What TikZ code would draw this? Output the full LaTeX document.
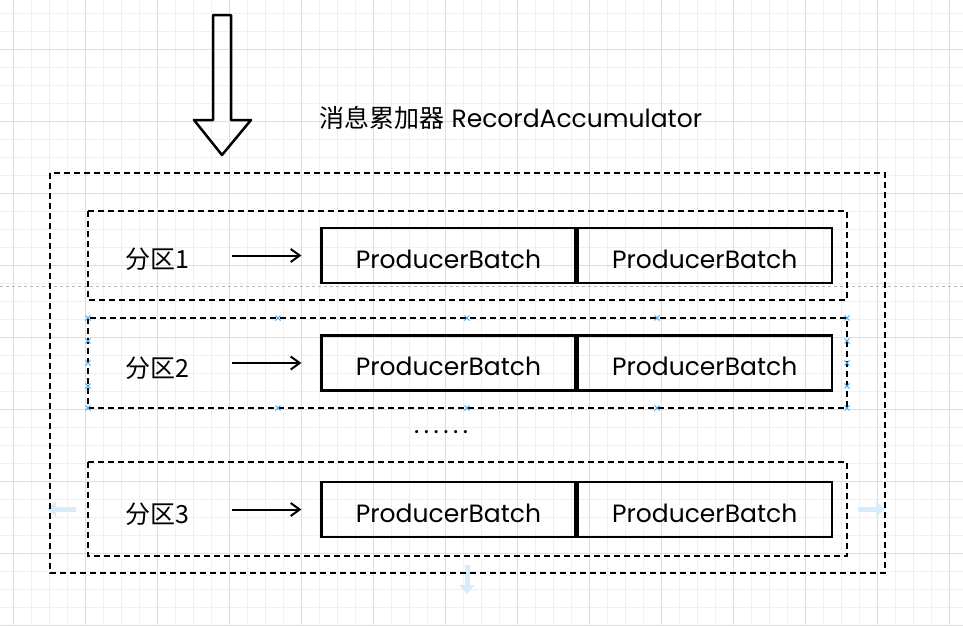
\documentclass[tikz,border=0pt]{standalone}
\usepackage{fontspec}
\setmainfont{Poppins}
\newfontfamily\cjk{Noto Sans CJK SC}
\usetikzlibrary{arrows.meta}
\definecolor{gridminor}{HTML}{F0F0F0}
\definecolor{gridmajor}{HTML}{DDDDDD}
\definecolor{selblue}{HTML}{3FA9F5}
\definecolor{hintblue}{HTML}{D6ECFA}

\begin{document}
\begin{tikzpicture}[x=1pt,y=-1pt,
  part/.style={draw,dash pattern=on 6pt off 4pt,line width=2.3pt},
  batch/.style={draw,line width=2.2pt,minimum width=254pt,minimum height=55pt,inner sep=0pt,text height=25pt,text depth=0pt,font=\fontsize{25}{30}\selectfont},
  lbl/.style={font=\fontsize{25}{30}\selectfont\cjk},
  arr/.style={-{Straight Barb[length=9pt,width=13pt]},line width=2pt},
  selx/.style={selblue,line width=0.9pt},
  hint/.style={hintblue,line width=5pt,-{Triangle[length=9pt,width=15pt]}}]
\useasboundingbox (0,0) rectangle (963,625);
\fill[white] (0,0) rectangle (963,625);
\foreach \g in {13,31,...,963} \draw[gridminor] (\g,0) -- (\g,625);
\foreach \g in {13,31,...,625} \draw[gridminor] (0,\g) -- (963,\g);
\foreach \g in {13,85,...,963} \draw[gridmajor] (\g,0) -- (\g,625);
\foreach \g in {49,121,...,625} \draw[gridmajor] (0,\g) -- (963,\g);
\draw[gray!55,dash pattern=on 3pt off 3pt] (0,286) -- (963,286);

\draw[line width=2.5pt,line join=round] (213,15) -- (231,15) -- (231,120) -- (251,120) -- (222,155) -- (194,120) -- (213,120) -- cycle;
\node[font=\fontsize{25}{30}\selectfont] (title) at (511,118) {{\cjk 消息累加器} RecordAccumulator};

\draw[hint] (76,509) -- (47,509);
\draw[hint] (858,509) -- (885,509);
\draw[hint] (467,565) -- (467,594);

\draw[part] (50,173) rectangle (885,573);
\foreach \n/\top/\bot/\by/\ly in {1/211/300/255.5/259, 2/318/408/363/368, 3/462/556/509.5/514}{
  \draw[part] (88,\top) rectangle (847,\bot);
  \node[lbl] (p\n) at (157,\ly) {分区\n};
  \node[batch] (b\n1) at (448.5,\by) {ProducerBatch};
  \node[batch,anchor=west] (b\n2) at (b\n1.east) {ProducerBatch};
  \draw[arr,shorten <=40pt,shorten >=19pt] (p\n.east |- b\n1.west) -- (b\n1.west);
}
\node[font=\fontsize{25}{30}\selectfont] (gap) at (441,432) {.\hspace{4.5pt}.\hspace{4.5pt}.\hspace{4.5pt}.\hspace{4.5pt}.\hspace{4.5pt}.};

\foreach \x in {88,278,467,657,847} \foreach \y in {318,408}
  \draw[selx] (\x-2.5,\y-2.5) -- ++(5,5) (\x-2.5,\y+2.5) -- ++(5,-5);
\foreach \x in {88,847} \foreach \y in {341,363,386}
  \draw[selx] (\x-2.5,\y-2.5) -- ++(5,5) (\x-2.5,\y+2.5) -- ++(5,-5);
\end{tikzpicture}
\end{document}
